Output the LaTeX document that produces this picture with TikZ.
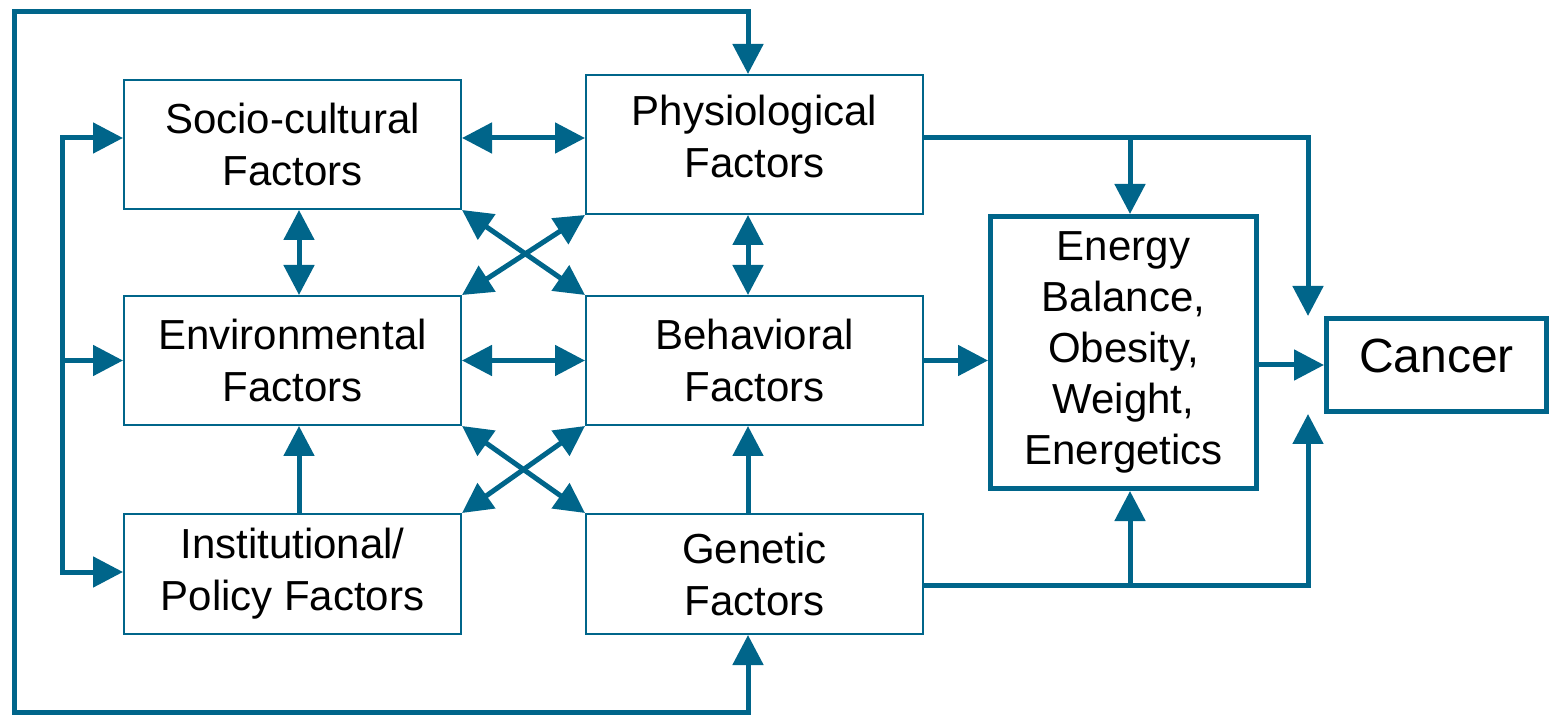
\documentclass[tikz,border=0pt]{standalone}
\usepackage{fontspec}
\setmainfont{Liberation Sans}
\usetikzlibrary{arrows.meta}
\definecolor{lineblue}{RGB}{0,101,138}
\begin{document}
\begin{tikzpicture}[x=0.5pt,y=-0.5pt,
  >={Triangle[length=15pt,width=15pt]},
  factor/.style={draw=lineblue,line width=1pt,inner sep=0pt,minimum width=168.5pt,align=center,font=\fontsize{21}{26}\selectfont},
  outcome/.style={draw=lineblue,line width=2.5pt,inner sep=0pt,align=center,font=\fontsize{21}{25.5}\selectfont},
  conn/.style={draw=lineblue,line width=2.5pt}]
\useasboundingbox (0,0) rectangle (1556,715);

\node[factor,minimum height=64.5pt] (socio) at (292.5,144.5) {Socio-cultural\\Factors};
\node[factor,minimum height=69.5pt,text depth=8pt] (phys) at (754.5,144.5) {Physiological\\Factors};
\node[factor,minimum height=64.5pt] (env) at (292.5,360.5) {Environmental\\Factors};
\node[factor,minimum height=64.5pt] (behav) at (754.5,360.5) {Behavioral\\Factors};
\node[factor,minimum height=60pt] (inst) at (292.5,574) {Institutional/\\Policy Factors};
\node[factor,minimum height=60pt] (genetic) at (754.5,574) {Genetic\\Factors};
\node[outcome,minimum width=133pt,minimum height=136pt] (energy) at (1123.5,352.5) {Energy\\Balance,\\Obesity,\\Weight,\\Energetics};
\node[outcome,minimum width=110pt,minimum height=46.5pt,text depth=9pt,font=\fontsize{24}{28}\selectfont] (cancer) at (1436.5,365) {Cancer};

\coordinate (cl) at (299,0);
\coordinate (cr) at (748,0);
\coordinate (lt) at (62,138);
\coordinate (lb) at (62,572);
\coordinate (ot) at (14,12);
\coordinate (ob) at (14,712);
\coordinate (jt) at (1130,138);
\coordinate (ct) at (1308,138);
\coordinate (jb) at (1130,585);
\coordinate (cb) at (1308,585);

\draw[conn,<->] (phys.north -| cr) |- (ot) -- (ob) -| (genetic.south -| cr);
\draw[conn,<->] (socio.west |- lt) -- (lt) -- (lb) -- (inst.west |- lb);
\draw[conn,->] (lt |- env.west) -- (env.west);

\draw[conn,<->] (socio.east |- lt) -- (phys.west |- lt);
\draw[conn,<->] (env.east) -- (behav.west);
\draw[conn,<->] (socio.south -| cl) -- (env.north -| cl);
\draw[conn,<->] (phys.south -| cr) -- (behav.north -| cr);
\draw[conn,->] (inst.north -| cl) -- (env.south -| cl);
\draw[conn,->] (genetic.north -| cr) -- (behav.south -| cr);

\draw[conn,<->] (socio.south east) -- (behav.north west);
\draw[conn,<->] (phys.south west) -- (env.north east);
\draw[conn,<->] (env.south east) -- (genetic.north west);
\draw[conn,<->] (behav.south west) -- (inst.north east);

\draw[conn,->] (behav.east) -- (energy.west |- behav.east);
\draw[conn,->] (energy.east |- cancer.west) -- (cancer.west);
\draw[conn,->] (phys.east |- ct) -- (ct) -- (ct |- cancer.north);
\draw[conn,->] (jt) -- (energy.north -| jt);
\draw[conn,->] (genetic.east |- cb) -- (cb) -- (cb |- cancer.south);
\draw[conn,->] (jb) -- (energy.south -| jb);

\end{tikzpicture}
\end{document}
